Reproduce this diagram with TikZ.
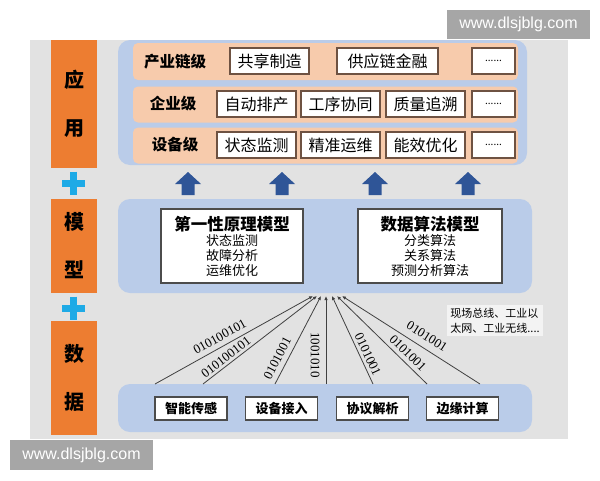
\documentclass[tikz,border=0pt]{standalone}
\usepackage{fontspec}
\setmainfont{Noto Sans CJK SC}
\newfontfamily\webfont{Liberation Sans}
\newfontfamily\digitfont{Liberation Serif}
\usetikzlibrary{arrows.meta}
\definecolor{boardgray}{RGB}{226,226,226}
\definecolor{panelblue}{RGB}{186,204,233}
\definecolor{rowpeach}{RGB}{247,203,172}
\definecolor{sideorange}{RGB}{237,125,49}
\definecolor{pluscyan}{RGB}{30,170,230}
\definecolor{arrowblue}{RGB}{47,85,151}
\definecolor{boxbrown}{RGB}{110,82,66}
\definecolor{markgray}{RGB}{166,166,166}

\begin{document}
\begin{tikzpicture}[x=1pt,y=-1pt,
    panel/.style={fill=panelblue, rounded corners=12pt, inner sep=0pt},
    layerrow/.style={fill=rowpeach, rounded corners=5pt, inner sep=0pt,
      minimum width=385pt},
    side/.style={fill=sideorange, minimum width=46pt, inner sep=0pt,
      align=center, font=\bfseries\fontsize{20}{48}\selectfont},
    rowlabel/.style={font=\bfseries\fontsize{15.5}{16}\selectfont},
    appbox/.style={draw=boxbrown, line width=1.1pt, fill=white,
      minimum height=26pt, inner sep=0pt, font=\fontsize{16}{16}\selectfont},
    dotbox/.style={appbox, minimum width=43pt, font=\fontsize{10}{10}\selectfont},
    modelbox/.style={draw=black!70, line width=1.1pt, fill=white,
      minimum height=74pt, inner sep=0pt, align=center,
      font=\fontsize{13}{15}\selectfont},
    databox/.style={draw=black!70, line width=1.1pt, fill=white,
      minimum width=72pt, minimum height=23pt, inner sep=0pt,
      font=\bfseries\fontsize{13}{13}\selectfont},
    link/.style={draw=black!75, line width=0.8pt,
      -{Latex[length=4pt,width=3.5pt]}},
    bits/.style={font=\digitfont\fontsize{13}{13}\selectfont,
      inner sep=0pt, sloped},
    webmark/.style={fill=markgray, text=white, inner sep=0pt,
      font=\webfont\fontsize{16}{16}\selectfont}]
  \useasboundingbox (0,0) rectangle (600,480);
  \fill[boardgray] (30,40) rectangle (568,439);

  \node[webmark, minimum width=143pt, minimum height=29pt] (webtop) at (518.5,24.5) {www.dlsjblg.com};
  \node[webmark, minimum width=143pt, minimum height=30pt] (webbottom) at (81.5,455) {www.dlsjblg.com};

  \node[side, minimum height=128pt] (apply) at (74,104) {应\\用};
  \node[side, minimum height=94pt] (model) at (74,246) {模\\型};
  \node[side, minimum height=114pt] (data) at (74,378) {数\\据};
  \foreach \y in {183,308}
    \draw[pluscyan, line width=7pt] (62,\y) -- (85,\y) (73.5,\y-11.5) -- (73.5,\y+11.5);

  \node[panel, minimum width=409pt, minimum height=125pt] (apppanel) at (322.5,102.5) {};
  \node[layerrow, minimum height=37pt] (chain) at (325.5,61.5) {};
  \node[layerrow, minimum height=36pt] (firm) at (325.5,104.5) {};
  \node[layerrow, minimum height=36pt] (device) at (325.5,145.5) {};

  \node[rowlabel] (chainlabel) at (175,62) {产业链级};
  \node[appbox, minimum width=79pt] (share) at (269.5,61) {共享制造};
  \node[appbox, minimum width=101pt] (finance) at (387.5,61) {供应链金融};
  \node[dotbox] (chainmore) at (493.5,61) {......};

  \node[rowlabel] (firmlabel) at (173,104) {企业级};
  \node[appbox, minimum width=79pt] (schedule) at (256.5,104) {自动排产};
  \node[appbox, minimum width=79pt] (process) at (340.5,104) {工序协同};
  \node[appbox, minimum width=79pt] (trace) at (425.5,104) {质量追溯};
  \node[dotbox] (firmmore) at (493.5,104) {......};

  \node[rowlabel] (devicelabel) at (175,145) {设备级};
  \node[appbox, minimum width=79pt] (monitor) at (256.5,145) {状态监测};
  \node[appbox, minimum width=79pt] (maintain) at (340.5,145) {精准运维};
  \node[appbox, minimum width=79pt] (energy) at (425.5,145) {能效优化};
  \node[dotbox] (devicemore) at (493.5,145) {......};

  \foreach \x in {188,282,375,468}
    \fill[arrowblue] (\x-6.5,195) -- (\x-6.5,184) -- (\x-13,184) -- (\x,172)
      -- (\x+13,184) -- (\x+6.5,184) -- (\x+6.5,195) -- cycle;

  \node[panel, minimum width=414pt, minimum height=94pt] (modelpanel) at (325,246) {};
  \node[modelbox, minimum width=142pt] (physics) at (232,246)
    {{\bfseries\fontsize{16.5}{19}\selectfont 第一性原理模型}\\状态监测\\故障分析\\运维优化};
  \node[modelbox, minimum width=144pt] (algorithm) at (430,246)
    {{\bfseries\fontsize{16.5}{19}\selectfont 数据算法模型}\\分类算法\\关系算法\\预测分析算法};

  \node[panel, minimum width=414pt, minimum height=48pt] (datapanel) at (325,408) {};
  \node[databox] (sensor) at (191,408.5) {智能传感};
  \node[databox] (access) at (281.5,408.5) {设备接入};
  \node[databox] (protocol) at (372.5,408.5) {协议解析};
  \node[databox] (edge) at (462.5,408.5) {边缘计算};

  \node[fill=white!60!boardgray, inner sep=3pt, align=left,
    font=\fontsize{11}{15}\selectfont] (network) at (495,320.5)
    {现场总线、工业以\\太网、工业无线....};

  \coordinate (s1) at (155,384); \coordinate (t1) at (313,296);
  \coordinate (s2) at (203,384); \coordinate (t2) at (317,296);
  \coordinate (s3) at (275,384); \coordinate (t3) at (321,296);
  \coordinate (s4) at (326,384); \coordinate (t4) at (326,296);
  \coordinate (s5) at (373,384); \coordinate (t5) at (332,296);
  \coordinate (s6) at (427,384); \coordinate (t6) at (337,296);
  \coordinate (s7) at (480,384); \coordinate (t7) at (342,296);

  \draw[link] (s1) -- node[bits, pos=.44, above=5pt] {010100101} (t1);
  \draw[link] (s2) -- node[bits, pos=.24, above=2.5pt] {010100101} (t2);
  \draw[link] (s3) -- node[bits, pos=.24, above=5pt] {0101001} (t3);
  \draw[link] (s4) -- node[font=\digitfont\fontsize{13}{13}\selectfont,
    inner sep=6pt, rotate=-90, anchor=north, pos=.33] {1001010} (t4);
  \draw[link] (s5) -- node[bits, pos=.3, above=3pt] {0101001} (t5);
  \draw[link] (s6) -- node[bits, pos=.28, above=4pt] {0101001} (t6);
  \draw[link] (s7) -- node[bits, pos=.43, above=7pt] {0101001} (t7);
\end{tikzpicture}
\end{document}
